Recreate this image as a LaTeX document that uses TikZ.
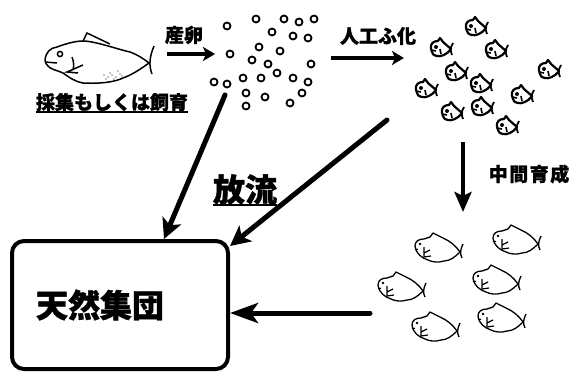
\documentclass[tikz,border=0pt]{standalone}
\usepackage{fontspec}
\newfontfamily\jp{Noto Sans CJK JP}[BoldFeatures={FakeBold=1.2}]
\usetikzlibrary{arrows.meta, positioning, calc}

\newsavebox\ulbox
\newcommand{\thul}[2][3pt]{\sbox\ulbox{#2}\rlap{\raisebox{-#1}{\rule{\wd\ulbox}{1.8pt}}}\usebox\ulbox}

\tikzset{
  lbl/.style={font=\jp\bfseries\fontsize{19}{19}\selectfont, inner sep=0pt},
  biglbl/.style={font=\jp\bfseries\fontsize{32}{32}\selectfont, inner sep=0pt},
  popbox/.style={draw, line width=4pt, rounded corners=12pt, minimum width=216pt,
    minimum height=128pt, inner xsep=24pt, text width=168pt, align=left},
  egg/.style={line width=1.8pt},
  arr/.style={line width=4pt, -{Stealth[length=12pt, width=14pt, inset=3pt]}},
  downarr/.style={line width=4.5pt, -{Stealth[length=20pt, width=17pt, inset=4pt]}},
  relarr/.style={line width=5pt, line cap=round, -{Stealth[length=20pt, width=20pt, inset=5pt]}},
  backarr/.style={line width=5pt, line cap=round, -{Stealth[length=28pt, width=20pt, inset=7pt]}},
  adult/.pic={
    \draw[line width=1.5pt, line join=round]
      (-55,0) .. controls (-54,-8) and (-50,-12) .. (-43,-13)
      .. controls (-35,-16) and (-25,-19) .. (-17,-19)
      .. controls (-5,-19) and (20,-10) .. (30,-8)
      .. controls (38,-5) and (44,-1) .. (49,3)
      .. controls (42,8) and (32,15) .. (23,18)
      .. controls (15,22) and (0,24) .. (-17,23)
      .. controls (-24,22) and (-30,18) .. (-37,13)
      .. controls (-44,10) and (-50,9) .. (-52,6)
      .. controls (-54,4) .. (-55,0);
    \draw[line width=1.5pt] (-17,-19) -- (-13,-27) -- (10,-16);
    \draw[line width=1.5pt] (54,-14) .. controls (49,-2) and (49,6) .. (52,14);
    \draw[line width=1.5pt] (-55,2) -- (-43,3);
    \draw[line width=1.5pt] (-40,-6) circle[radius=2.6pt];
    \draw[line width=1.5pt] (-28,-3) .. controls (-26,2) and (-26,6) .. (-27,10);
    \draw[line width=1.5pt] (-17,5) -- (-33,12) -- (-22,13);
    \foreach \dx/\dy in {4/15, 8/17, 12/15, 16/17, 20/14, 6/19, 14/19, 18/11, 22/16, 10/13}
      \fill (\dx,\dy) circle[radius=0.6pt];
  },
  larva/.pic={
    \draw[line width=2.2pt, line join=round]
      (-11,1) .. controls (-12,-5) and (-8,-7) .. (-4,-7) -- (-2,-10) -- (1,-6)
      .. controls (4,-4) and (6,-1) .. (9,1)
      .. controls (5,7) and (-2,9) .. (-5,8)
      .. controls (-9,7) .. (-11,1);
    \draw[line width=1.8pt] (11,-5) .. controls (8,1) .. (10,7);
    \fill (-6,-1) circle[radius=2pt];
    \draw[line width=1.6pt] (-11,2) -- (-6,3) (-2,1) -- (-1,6);
  },
  juvfish/.pic={
    \draw[line width=1.3pt, line join=round]
      (-25,-2) .. controls (-25,-7) and (-21,-9) .. (-16,-9)
      .. controls (-13,-10) .. (-10,-11) -- (-7,-15) -- (3,-10)
      .. controls (10,-7) and (16,-2) .. (20,4)
      .. controls (15,9) and (10,13) .. (4,13)
      .. controls (-2,15) and (-8,14) .. (-12,12)
      .. controls (-18,10) and (-24,6) .. (-25,-2);
    \draw[line width=1.3pt] (23,-4) .. controls (20,2) and (20,6) .. (22,10);
    \fill (-20,-4) circle[radius=1.4pt];
    \draw[line width=1.2pt] (-25,1) -- (-22,1.5);
    \draw[line width=1.2pt] (-16,-1) -- (-16,9) -- (-9,8) (-16,5) -- (-10,2);
  }
}

\begin{document}
\begin{tikzpicture}[x=1pt, y=-1pt]
  \useasboundingbox (0,0) rectangle (576,372);

  % parent fish and eggs
  \pic at (100,60) {adult};
  \node[lbl] (saishu) at (112,103) {\thul[3.5pt]{採集もしくは飼育}};
  \foreach \ex/\ey in {227/26, 256/19, 284/19, 299/22, 314/19, 272/32, 293/36, 308/38,
      259/47, 280/51, 230/54, 252/60, 268/64, 311/64, 277/73, 293/78, 308/82,
      214/82, 227/84, 243/78, 261/78, 246/93, 265/97, 302/93, 290/103, 246/106}
    \draw[egg] (\ex,\ey) circle[radius=3.5pt];

  % hatched larvae
  \foreach \lx/\ly in {477/27, 442/48, 497/50, 457/72, 550/70, 482/84, 427/89,
      523/95, 453/112, 483/107, 508/126}
    \pic at (\lx,\ly) {larva};

  % juveniles
  \foreach \jx/\jy in {440/248, 518/240, 403/287, 498/280, 437/327, 503/318}
    \pic at (\jx,\jy) {juvfish};

  \node[lbl] (sanran) at (184,35) {産卵};
  \node[lbl] (fuka) at (378,36) {人工ふ化};
  \node[lbl] (ikusei) at (529,174) {\addfontfeature{LetterSpace=8}中間育成};
  \node[biglbl] (horyu) at (245,190) {\thul[4pt]{放流}};
  \node[popbox, font=\jp\bfseries\fontsize{32}{32}\selectfont] (shudan) at (120,305) {天然集団};

  \coordinate (sanranS) at (167,54);
  \coordinate (sanranE) at (215,54);
  \coordinate (fukaS) at (331,58);
  \coordinate (fukaE) at (404,58);
  \coordinate (ikuseiS) at (463,142);
  \coordinate (ikuseiE) at (463,212);
  \coordinate (eggS) at (225,95);
  \coordinate (larvaS) at (387,120);
  \coordinate (juvS) at (370,313);

  \draw[arr] (sanranS) -- (sanranE);
  \draw[arr] (fukaS) -- (fukaE);
  \draw[downarr] (ikuseiS) -- (ikuseiE);
  \draw[relarr] (eggS) -- ($(shudan.north west)!0.7!(shudan.north east)$);
  \draw[relarr] (larvaS) -- ([yshift=-7pt]shudan.north east);
  \draw[backarr] (juvS) -- (juvS -| shudan.east);
\end{tikzpicture}
\end{document}
